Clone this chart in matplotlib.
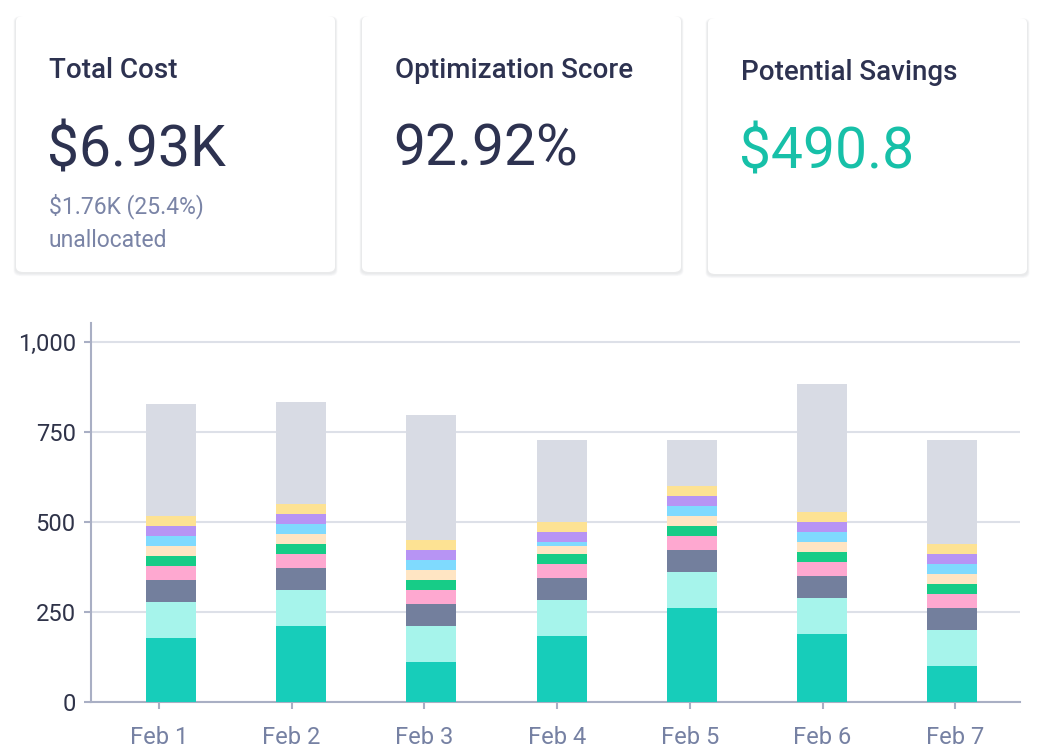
import matplotlib.pyplot as plt
from matplotlib.patches import FancyBboxPatch
import numpy as np

plt.rcParams['font.family'] = ['Roboto', 'DejaVu Sans']

# daily cost, stacked from the bottom up
dates = ['Feb 1', 'Feb 2', 'Feb 3', 'Feb 4', 'Feb 5', 'Feb 6', 'Feb 7']
teal = [178, 211, 111, 183, 261, 189, 100]
aqua = [100, 100, 100, 100, 100, 100, 100]
slate = [61, 61, 61, 61, 61, 61, 61]
pink = [39, 39, 39, 39, 39, 39, 39]
green = [28, 28, 28, 28, 28, 28, 28]
peach = [28, 28, 28, 22, 28, 28, 28]
sky = [28, 28, 28, 11, 28, 28, 28]
purple = [28, 28, 28, 28, 28, 28, 28]
yellow = [28, 28, 28, 28, 28, 28, 28]
unallocated = [311, 282, 346, 228, 128, 355, 288]

series = [teal, aqua, slate, pink, green, peach, sky, purple, yellow, unallocated]
colors = ['#17CDBA', '#A6F4EB', '#737F9D', '#FEA8D0', '#17CC87',
          '#FFE5C3', '#7FDAFE', '#B794F4', '#FDE293', '#D8DBE4']

# summary cards
card_titles = ['Total Cost', 'Optimization Score', 'Potential Savings']
card_values = ['$6.93K', '92.92%', '$490.8']
card_value_colors = ['#2D3250', '#2D3250', '#17C0A8']
card_sub = ['$1.76K (25.4%)', 'unallocated']

W, H = 1046, 752
fig = plt.figure(figsize=(W / 100, H / 100), dpi=100)


def fx(px):
    return px / W


def fy(py):
    return 1 - py / H


def rbox(x, y, w, h, **kw):
    # x, y = top-left in pixels
    p = FancyBboxPatch((fx(x), fy(y + h)), fx(w), fy(0) - fy(h),
                       boxstyle="round,pad=0,rounding_size=0.007",
                       transform=fig.transFigure, **kw)
    fig.patches.append(p)


# cards: left, top (px)
card_pos = [(16, 16), (362, 16), (708, 18)]
card_w, card_h = 319, 256
for i, (cx, cy) in enumerate(card_pos):
    # soft shadow, heavier at the bottom
    for k in range(4):
        rbox(cx - 1 - k * 0.5, cy + 1 - k * 0.3, card_w + 2 + k, card_h + 1 + k,
             facecolor='#1F2540', alpha=0.025, edgecolor='none', zorder=1)
    rbox(cx, cy, card_w, card_h, facecolor='white', edgecolor='none', zorder=2)
    fig.text(fx(cx + 33), fy(cy + 62), card_titles[i], fontsize=20, fontweight='medium',
             color='#2D3250', va='baseline', ha='left', zorder=3)
    fig.text(fx(cx + 31), fy(cy + 150), card_values[i], fontsize=41, color=card_value_colors[i],
             va='baseline', ha='left', zorder=3)

fig.text(fx(49), fy(213), card_sub[0], fontsize=16.5, color='#7A84A6', va='baseline', zorder=3)
fig.text(fx(49), fy(247), card_sub[1], fontsize=16.5, color='#7A84A6', va='baseline', zorder=3)

# chart
ax = fig.add_axes([fx(91), fy(702), fx(1020 - 91), fy(323) - fy(702)])
n = len(dates)
bar_x = 0.603 + np.arange(n) * 0.981
tick_x = 0.512 + np.arange(n)
bottom = np.zeros(n)
for vals, c in zip(series, colors):
    ax.bar(bar_x, vals, width=0.377, bottom=bottom, color=c, edgecolor='none', zorder=3)
    bottom += np.array(vals)

ax.set_xlim(0, 7)
ax.set_ylim(0, 1053)
ax.set_yticks([0, 250, 500, 750, 1000])
ax.set_yticklabels(['0', '250', '500', '750', '1,000'])
ax.set_xticks(tick_x)
ax.set_xticklabels(dates)
ax.grid(axis='y', color='#DDE0E8', linewidth=1.5, zorder=0)
ax.set_axisbelow(True)
for s in ['top', 'right']:
    ax.spines[s].set_visible(False)
for s in ['left', 'bottom']:
    ax.spines[s].set_color('#A9AFC4')
    ax.spines[s].set_linewidth(1.5)
ax.tick_params(axis='y', length=5, width=1.5, color='#A9AFC4', labelsize=17, labelcolor='#2F3349', pad=6)
ax.tick_params(axis='x', length=5, width=1.5, color='#A9AFC4', labelsize=17, labelcolor='#7681A3', pad=12)

fig.savefig('out.png', dpi=100, facecolor='white')
